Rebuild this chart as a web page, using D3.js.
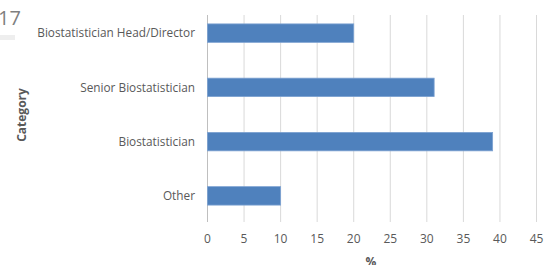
<!DOCTYPE html>
<html>
<head>
<meta charset="utf-8">
<script src="https://cdn.jsdelivr.net/npm/d3@7"></script>
<style>
  body { margin: 0; background: #fff; }
  text { font-family: "Open Sans", "Noto Sans", sans-serif; }
</style>
</head>
<body>
<svg id="chart" width="550" height="265"></svg>
<script>
// data
var categories = ["Biostatistician Head/Director", "Senior Biostatistician", "Biostatistician", "Other"];
var values = [20, 31, 39, 10];
var xTicks = [0, 5, 10, 15, 20, 25, 30, 35, 40, 45];

var svg = d3.select("#chart");

var x = d3.scaleLinear().domain([0, 45]).range([207.5, 536.5]);
var y = d3.scaleBand().domain(categories).range([6, 223]).paddingInner(0.66).paddingOuter(0.33);

// fragment of the neighbouring slide in the corner
svg.append("text")
  .attr("x", -2).attr("y", 25)
  .attr("font-size", 20)
  .attr("fill", "#7f7f7f")
  .text("17");
svg.append("rect")
  .attr("x", 0).attr("y", 35).attr("width", 15).attr("height", 5)
  .attr("fill", "#eeeeee");

// vertical gridlines
svg.append("g").selectAll("line")
  .data(xTicks)
  .enter().append("line")
  .attr("x1", function(d) { return x(d); })
  .attr("x2", function(d) { return x(d); })
  .attr("y1", 15).attr("y2", 222)
  .attr("stroke", function(d) { return d === 0 ? "#bfbfbf" : "#d9d9d9"; })
  .attr("stroke-width", 1);

// bars
svg.append("g").selectAll("rect")
  .data(values)
  .enter().append("rect")
  .attr("x", x(0))
  .attr("y", function(d, i) { return y(categories[i]); })
  .attr("width", function(d) { return x(d) - x(0); })
  .attr("height", y.bandwidth())
  .attr("fill", "#4f81bd")
  .attr("stroke", "#7da2d2")
  .attr("stroke-width", 0.8);

// category labels
svg.append("g").selectAll("text")
  .data(categories)
  .enter().append("text")
  .attr("x", 195)
  .attr("y", function(d) { return y(d) + y.bandwidth() / 2; })
  .attr("dy", "0.35em")
  .attr("text-anchor", "end")
  .attr("font-size", 11.8)
  .attr("fill", "#595959")
  .text(function(d) { return d; });

// x tick labels
svg.append("g").selectAll("text")
  .data(xTicks)
  .enter().append("text")
  .attr("x", function(d) { return x(d); })
  .attr("y", 243)
  .attr("text-anchor", "middle")
  .attr("font-size", 12)
  .attr("fill", "#595959")
  .text(function(d) { return d; });

// axis titles
svg.append("text")
  .attr("x", 371).attr("y", 266)
  .attr("text-anchor", "middle")
  .attr("font-size", 12)
  .attr("font-weight", "bold")
  .attr("fill", "#595959")
  .text("%");

svg.append("text")
  .attr("transform", "translate(26,115) rotate(-90)")
  .attr("text-anchor", "middle")
  .attr("font-size", 12)
  .attr("font-weight", "bold")
  .attr("fill", "#595959")
  .text("Category");
</script>
</body>
</html>
